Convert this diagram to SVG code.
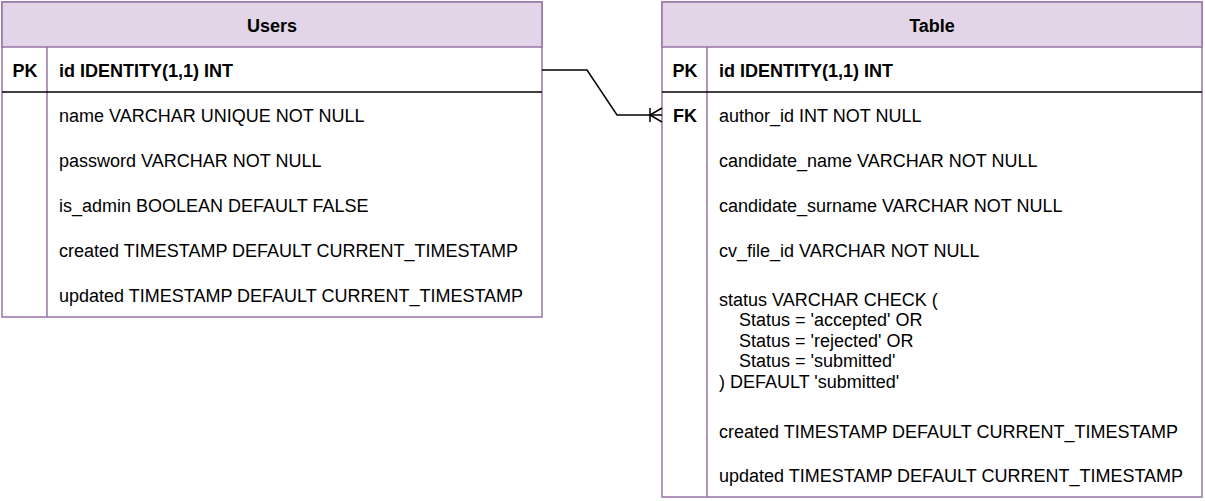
<svg xmlns="http://www.w3.org/2000/svg" width="1205" height="501" viewBox="0 0 1205 501">
<style>
.hdr{fill:#e1d5e7;stroke:#9673a6;stroke-width:1.5}
.box{fill:#ffffff;stroke:#9673a6;stroke-width:1.5}
.div{stroke:#9673a6;stroke-width:1.5;fill:none}
.sep{stroke:#000000;stroke-width:1.5;fill:none}
text{font-family:"Liberation Sans",Arial,sans-serif;font-size:18px;fill:#000000}
.b{font-weight:bold}
.c{text-anchor:middle}
.conn{stroke:#000000;stroke-width:1.5;fill:none}
</style>
<rect width="1205" height="501" fill="#ffffff"/>
<g id="users">
<rect class="box" x="2" y="2" width="540" height="315"/>
<rect class="hdr" x="2" y="2" width="540" height="45"/>
<line class="div" x1="47" y1="47" x2="47" y2="317"/>
<line class="sep" x1="2" y1="92" x2="542" y2="92"/>
<text class="b c" x="272" y="32">Users</text>
<text class="b c" x="25" y="77">PK</text>
<text class="b" x="59" y="77">id IDENTITY(1,1) INT</text>
<text x="59" y="122">name VARCHAR UNIQUE NOT NULL</text>
<text x="59" y="167">password VARCHAR NOT NULL</text>
<text x="59" y="212">is_admin BOOLEAN DEFAULT FALSE</text>
<text x="59" y="257">created TIMESTAMP DEFAULT CURRENT_TIMESTAMP</text>
<text x="59" y="302">updated TIMESTAMP DEFAULT CURRENT_TIMESTAMP</text>
</g>
<g id="table">
<rect class="box" x="662" y="2" width="540" height="495"/>
<rect class="hdr" x="662" y="2" width="540" height="45"/>
<line class="div" x1="707" y1="47" x2="707" y2="497"/>
<line class="sep" x1="662" y1="92" x2="1202" y2="92"/>
<text class="b c" x="932" y="32">Table</text>
<text class="b c" x="685" y="77">PK</text>
<text class="b" x="719" y="77">id IDENTITY(1,1) INT</text>
<text class="b c" x="685" y="122">FK</text>
<text x="719" y="122">author_id INT NOT NULL</text>
<text x="719" y="167">candidate_name VARCHAR NOT NULL</text>
<text x="719" y="212">candidate_surname VARCHAR NOT NULL</text>
<text x="719" y="257">cv_file_id VARCHAR NOT NULL</text>
<text x="719" y="305.5">status VARCHAR CHECK (</text>
<text x="739" y="326">Status = 'accepted' OR</text>
<text x="739" y="346.5">Status = 'rejected' OR</text>
<text x="739" y="367">Status = 'submitted'</text>
<text x="719" y="387.5">) DEFAULT 'submitted'</text>
<text x="719" y="437.5">created TIMESTAMP DEFAULT CURRENT_TIMESTAMP</text>
<text x="719" y="481.5">updated TIMESTAMP DEFAULT CURRENT_TIMESTAMP</text>
</g>
<g id="connectors">
<polyline class="conn" points="542,70 587,70 617,115 662,115"/>
<line class="conn" x1="650" y1="108" x2="650" y2="122"/>
<polyline class="conn" points="662,108 650,115 662,122"/>
</g>
</svg>
